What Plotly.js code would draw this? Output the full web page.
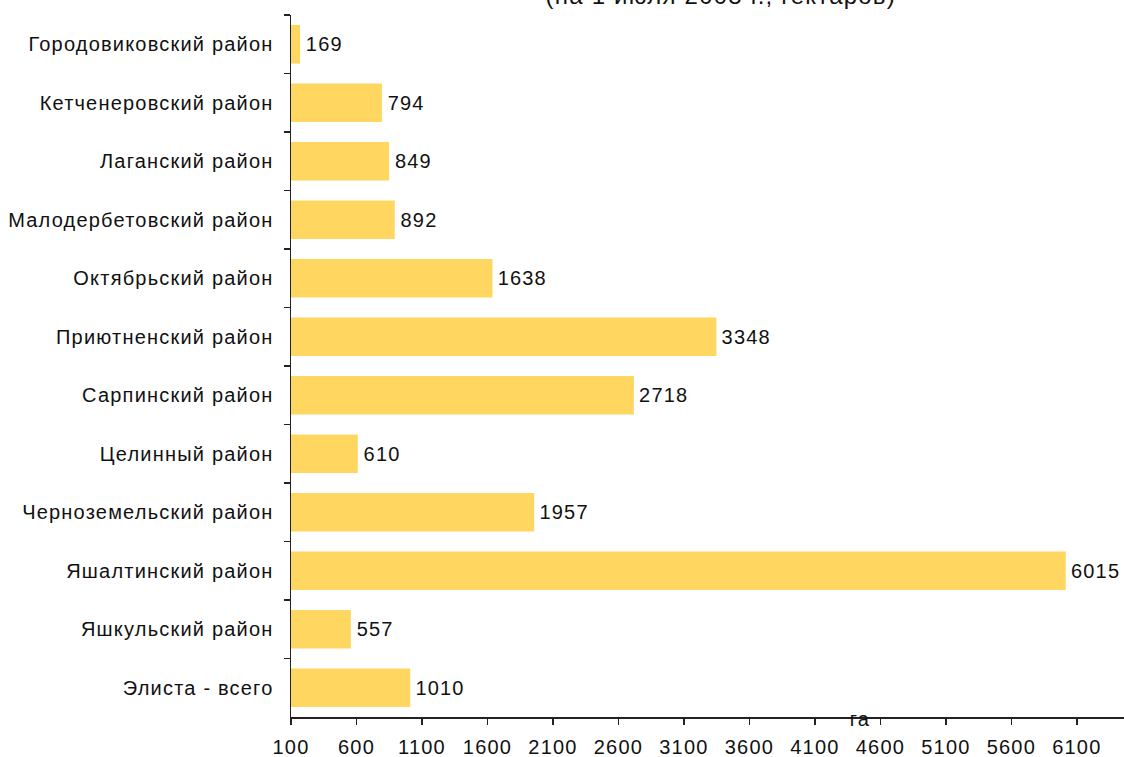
<!DOCTYPE html>
<html>
<head>
<meta charset="utf-8">
<script src="https://cdn.plot.ly/plotly-3.0.1.min.js"></script>
<style>
html,body{margin:0;padding:0;background:#fff;}
#chart text{letter-spacing:1.2px;}
</style>
</head>
<body>
<div id="chart" style="width:1124px;height:757px;"></div>
<script>
const categories = [
  "Городовиковский район",
  "Кетченеровский район",
  "Лаганский район",
  "Малодербетовский район",
  "Октябрьский район",
  "Приютненский район",
  "Сарпинский район",
  "Целинный район",
  "Черноземельский район",
  "Яшалтинский район",
  "Яшкульский район",
  "Элиста - всего"
];
const values = [169, 794, 849, 892, 1638, 3348, 2718, 610, 1957, 6015, 557, 1010];
const titleText = "(на 1 июля 2008 г., гектаров)";
const unitLabel = "га";

const fontFamily = "Arial, 'Liberation Sans', sans-serif";

const trace = {
  type: "bar",
  orientation: "h",
  y: categories,
  x: values,
  texttemplate: "\u2009%{x}",
  textposition: "outside",
  textfont: {family: fontFamily, size: 20, color: "#111"},
  marker: {color: "#FFD660", line: {width: 0}},
  cliponaxis: false,
  hoverinfo: "none"
};

const layout = {
  width: 1124,
  height: 757,
  margin: {l: 291, r: 0, t: 15, b: 40, pad: 0},
  paper_bgcolor: "#fff",
  plot_bgcolor: "#fff",
  showlegend: false,
  bargap: 0.34,
  font: {family: fontFamily, size: 20, color: "#111"},
  xaxis: {
    range: [100, 6460],
    tick0: 100,
    dtick: 500,
    showgrid: false,
    zeroline: false,
    showline: true,
    linecolor: "#222",
    linewidth: 1.5,
    ticks: "outside",
    ticklen: 6,
    tickwidth: 1.5,
    tickcolor: "#222",
    ticklabelstandoff: 5,
    tickfont: {family: fontFamily, size: 20, color: "#111"}
  },
  yaxis: {
    autorange: "reversed",
    showgrid: false,
    zeroline: false,
    showline: true,
    linecolor: "#222",
    linewidth: 1.5,
    ticks: "outside",
    tickson: "boundaries",
    ticklen: 6,
    tickwidth: 1.5,
    tickcolor: "#222",
    ticklabelstandoff: 12,
    tickfont: {family: fontFamily, size: 20, color: "#111"}
  },
  annotations: [{
    text: titleText,
    xref: "paper", yref: "paper",
    x: (721-291)/(1124-291), y: 1 + 19/702,
    xanchor: "center", yanchor: "middle",
    showarrow: false,
    font: {family: fontFamily, size: 24, color: "#111"}
  }, {
    text: unitLabel,
    xref: "paper", yref: "paper",
    x: (860-291)/(1124-291), y: -2/702,
    xanchor: "center", yanchor: "middle",
    showarrow: false,
    font: {family: fontFamily, size: 20, color: "#111"}
  }]
};

Plotly.newPlot("chart", [trace], layout, {staticPlot: true});
</script>
</body>
</html>
